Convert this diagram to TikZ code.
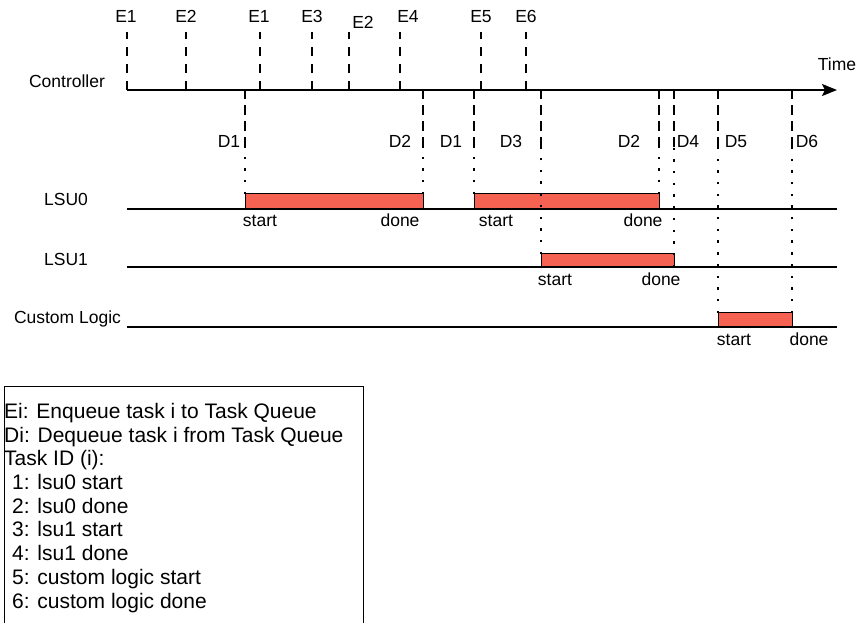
\documentclass[tikz,border=0pt]{standalone}
\usepackage{fontspec}
\setmainfont{Liberation Sans}
\usetikzlibrary{arrows.meta}
\definecolor{taskred}{RGB}{245,98,82}
\begin{document}
\begin{tikzpicture}[x=1pt,y=-1pt,
  lbl/.style={font=\fontsize{17.5}{20}\selectfont, inner sep=0pt, anchor=base},
  axisline/.style={line width=2pt},
  lane/.style={line width=2pt},
  etick/.style={line width=2.2pt, dash pattern=on 9pt off 8pt},
  dtick/.style={line width=2.2pt, dash pattern=on 10pt off 6pt},
  dotline/.style={line width=2.4pt, dash pattern=on 2.4pt off 9.3pt},
  taskbox/.style={draw=black, line width=1.3pt, fill=taskred, inner sep=0pt, anchor=south west},
  legendtext/.style={font=\fontsize{21}{23.7}\selectfont, inner sep=0pt, align=left, anchor=base west},
]
\useasboundingbox (0,0) rectangle (858,622);
\clip (0,0) rectangle (858,622);

% controller axis
\coordinate (axL) at (127,90);
\coordinate (axR) at (837,90);
\draw[axisline, -{Stealth[length=15pt,width=12pt,inset=3pt]}] (axL) -- (axR);
\node[lbl] (tlabel) at (837,70) {Time};

% lanes
\coordinate (l0L) at (127,209); \coordinate (l0R) at (837,209);
\coordinate (l1L) at (127,267); \coordinate (l1R) at (837,267);
\coordinate (l2L) at (127,327); \coordinate (l2R) at (837,327);
\draw[lane] (l0L) -- (l0R);
\draw[lane] (l1L) -- (l1R);
\draw[lane] (l2L) -- (l2R);

\node[lbl] (ctrl) at (67,87) {Controller};
\node[lbl] (lsu0) at (66,205) {LSU0};
\node[lbl] (lsu1) at (66,265) {LSU1};
\node[lbl] (cust) at (67.5,323) {Custom Logic};

% task boxes
\node[taskbox, minimum width=178pt, minimum height=15pt] (b0a) at (245,209) {};
\node[taskbox, minimum width=185pt, minimum height=15pt] (b0b) at (474,209) {};
\node[taskbox, minimum width=133pt, minimum height=13pt] (b1) at (541,267) {};
\node[taskbox, minimum width=74pt, minimum height=14pt] (b2) at (718,327) {};

\node[lbl] (s0a) at (260,226) {start};
\node[lbl] (d0a) at (400,226) {done};
\node[lbl] (s0b) at (496,226) {start};
\node[lbl] (d0b) at (643,226) {done};
\node[lbl] (s1) at (555,285) {start};
\node[lbl] (d1) at (661,285) {done};
\node[lbl] (s2) at (734,345) {start};
\node[lbl] (d2) at (809,345) {done};

% enqueue ticks
\foreach \n/\x in {e1a/127, e2a/186, e1b/260, e3/312, e2b/349, e4/400, e5/481, e6/526} {
  \coordinate (\n top) at (\x,32);
  \coordinate (\n bot) at (\x,90);
  \draw[etick] (\n bot) -- (\n top);
}
\node[lbl] (le1a) at (126,22.5) {E1};
\node[lbl] (le2a) at (186,22.5) {E2};
\node[lbl] (le1b) at (259,22.5) {E1};
\node[lbl] (le3) at (312,22.5) {E3};
\node[lbl] (le2b) at (363,28.5) {E2};
\node[lbl] (le4) at (408,22.5) {E4};
\node[lbl] (le5) at (481,22.5) {E5};
\node[lbl] (le6) at (526,22.5) {E6};

% dequeue ticks
\foreach \n/\x/\e in {d1a/245/194, d2a/423/194, d1b/474/194, d3/541/254, d2b/659/194, d4/674/267, d5/718/313, d6/792/313} {
  \coordinate (\n top) at (\x,91);
  \coordinate (\n mid) at (\x,147);
  \coordinate (\n end) at (\x,\e);
  \draw[dtick] (\n mid) -- (\n top);
  \draw[dotline] (\n end) -- (\n mid);
}
\node[lbl] (ld1a) at (229,147) {D1};
\node[lbl] (ld2a) at (400,147) {D2};
\node[lbl] (ld1b) at (451,147) {D1};
\node[lbl] (ld3) at (511,147) {D3};
\node[lbl] (ld2b) at (629,147) {D2};
\node[lbl] (ld4) at (688,147) {D4};
\node[lbl] (ld5) at (736,147) {D5};
\node[lbl] (ld6) at (807,147) {D6};

% legend
\draw[line width=1pt] (4.5,386) rectangle (363,660);
\node[legendtext] (legend) at (4,608) {Ei: Enqueue task i to Task Queue\\
Di: Dequeue task i from Task Queue\\
Task ID (i):\\
\hspace*{8pt}1: lsu0 start\\
\hspace*{8pt}2: lsu0 done\\
\hspace*{8pt}3: lsu1 start\\
\hspace*{8pt}4: lsu1 done\\
\hspace*{8pt}5: custom logic start\\
\hspace*{8pt}6: custom logic done};
\end{tikzpicture}
\end{document}
